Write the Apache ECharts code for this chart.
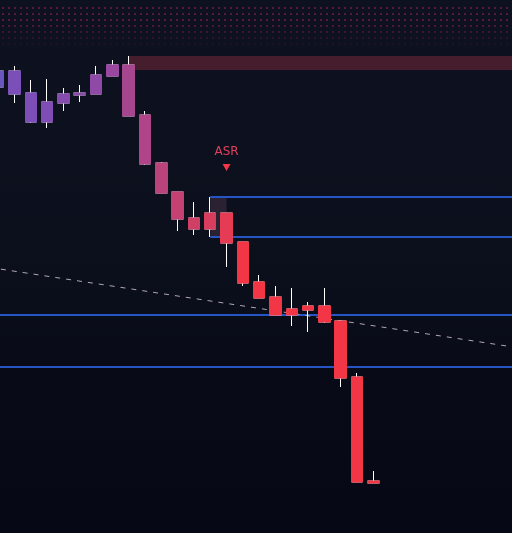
<!DOCTYPE html>
<html>
<head>
<meta charset="utf-8">
<script src="https://cdn.jsdelivr.net/npm/echarts@6/dist/echarts.min.js"></script>
<style>
  html, body { margin: 0; padding: 0; }
  body { width: 512px; height: 533px; position: relative; overflow: hidden;
    background: linear-gradient(to bottom, #0e1220 0%, #0c101d 45%, #080a17 70%, #060815 100%); }
  #dots { position: absolute; left: 0; top: 5px; width: 512px; height: 44px;
    background-image: radial-gradient(circle, rgba(140,30,80,0.6) 0.7px, transparent 1.1px);
    background-size: 6px 6px;
    -webkit-mask-image: linear-gradient(to bottom, #000 0%, #000 40%, transparent 100%);
    mask-image: linear-gradient(to bottom, #000 0%, #000 40%, transparent 100%); }
  /* chart is shifted left so the first bar is cut, as in the picture */
  #main { position: absolute; left: -10px; top: 0; width: 522px; height: 533px; }
</style>
</head>
<body>
<div id="dots"></div>
<div id="main"></div>
<script>
  // bars: [open, close, low, high]
  const categories = ['1','2','3','4','5','6','7','8','9','10','11','12','13','14','15','16',
    '17','18','19','20','21','22','23','24','25','26','27','28','29','30','31','32'];
  const candles = [
    [0.746, 0.762, 0.744, 0.764],
    [0.762, 0.739, 0.730, 0.767],
    [0.740, 0.711, 0.710, 0.753],
    [0.711, 0.731, 0.705, 0.754],
    [0.730, 0.739, 0.722, 0.745],
    [0.738, 0.740, 0.731, 0.748],
    [0.739, 0.758, 0.739, 0.767],
    [0.757, 0.768, 0.757, 0.773],
    [0.768, 0.717, 0.717, 0.777],
    [0.718, 0.669, 0.668, 0.722],
    [0.670, 0.640, 0.640, 0.671],
    [0.641, 0.614, 0.602, 0.641],
    [0.615, 0.604, 0.598, 0.631],
    [0.604, 0.620, 0.596, 0.636],
    [0.620, 0.590, 0.566, 0.620],
    [0.591, 0.550, 0.547, 0.591],
    [0.551, 0.535, 0.535, 0.558],
    [0.536, 0.518, 0.518, 0.547],
    [0.518, 0.524, 0.507, 0.545],
    [0.523, 0.527, 0.501, 0.531],
    [0.527, 0.511, 0.510, 0.545],
    [0.512, 0.455, 0.446, 0.512],
    [0.456, 0.351, 0.351, 0.460],
    [0.352, 0.350, 0.350, 0.362]
  ];
  const barColors = ['#6a56c0','#7b4fb8','#7d4eb7','#804db4','#854bae','#8a4aaa','#8f49a6','#9a47a0',
    '#a6468f','#b04488','#bb437c','#c44171','#cf3f66','#d93d5e','#e53b55','#f23645',
    '#f23645','#f23645','#f23645','#f23645','#f23645','#f23645','#f23645','#f23645'];

  // levels
  const levelPrices = [0.636, 0.596, 0.518, 0.466];
  const levelStart = [13, 13, -0.5, -0.5];
  const trendLine = [[-0.5, 0.5655], [31.5, 0.4862]];
  const bandZone = [8, 0.777, 0.763];        // start bar, top, bottom
  const boxZone = [13, 14, 0.636, 0.596];    // from bar, to bar, top, bottom
  const signalBar = 14;
  const signalPrice = 0.6655;

  let myChart = echarts.init(document.getElementById('main'))

  const wickData = categories.map((c, i) => candles[i] ? candles[i] : ['-','-','-','-']);
  const bodyData = categories.map((c, i) => {
    if (!candles[i]) return ['-','-','-','-'];
    const o = candles[i][0], cl = candles[i][1];
    return {
      value: [o, cl, Math.min(o, cl), Math.max(o, cl)],
      itemStyle: { color: barColors[i], color0: barColors[i], borderColor: barColors[i], borderColor0: barColors[i] }
    };
  });

  const levelSeries = levelPrices.map((p, i) => ({
    type: 'line', xAxisIndex: 1, symbol: 'none', silent: true, z: 3,
    data: [[levelStart[i], p], [31.5, p]],
    lineStyle: { color: '#2654c4', width: 2 }
  }));

  myChart.setOption({
    backgroundColor: 'transparent',
    animation: false,
    grid: { left: 0, right: 0, top: 0, bottom: 0 },
    xAxis: [{
      type: 'category', data: categories, show: false, boundaryGap: true
    }, {
      type: 'value', min: -0.5, max: 31.5, show: false
    }],
    yAxis: {
      type: 'value', min: 0.300, max: 0.833, show: false, splitLine: { show: false }
    },
    series: [{
      type: 'line', xAxisIndex: 1, symbol: 'none', silent: true, z: 1,
      data: [],
      markArea: {
        silent: true,
        data: [
          [{ coord: [bandZone[0], bandZone[1]], itemStyle: { color: '#461d2c' } }, { coord: [31.5, bandZone[2]] }],
          [{ coord: [boxZone[0], boxZone[2]], itemStyle: { color: '#2a2232' } }, { coord: [boxZone[1], boxZone[3]] }]
        ]
      }
    }].concat(levelSeries).concat([{
      type: 'line', xAxisIndex: 1, symbol: 'none', silent: true, z: 4,
      data: trendLine,
      lineStyle: { color: '#b3a9b6', width: 1, type: [5, 6] }
    }, {
      type: 'candlestick', z: 5,
      barWidth: 12,
      data: wickData,
      itemStyle: { color: 'transparent', color0: 'transparent', borderColor: '#ffffff', borderColor0: '#ffffff', borderWidth: 1 }
    }, {
      type: 'candlestick', z: 6,
      barWidth: 12,
      data: bodyData,
      itemStyle: { borderWidth: 1 },
      markPoint: {
        symbol: 'triangle', symbolRotate: 180, symbolSize: [8, 7],
        itemStyle: { color: '#f23645' },
        label: {
          show: true, position: 'top', distance: 6, formatter: 'ASR',
          color: '#e0405c', fontSize: 12, fontFamily: 'DejaVu Sans'
        },
        data: [{ coord: [signalBar, signalPrice] }]
      }
    }])
  });
</script>
</body>
</html>
